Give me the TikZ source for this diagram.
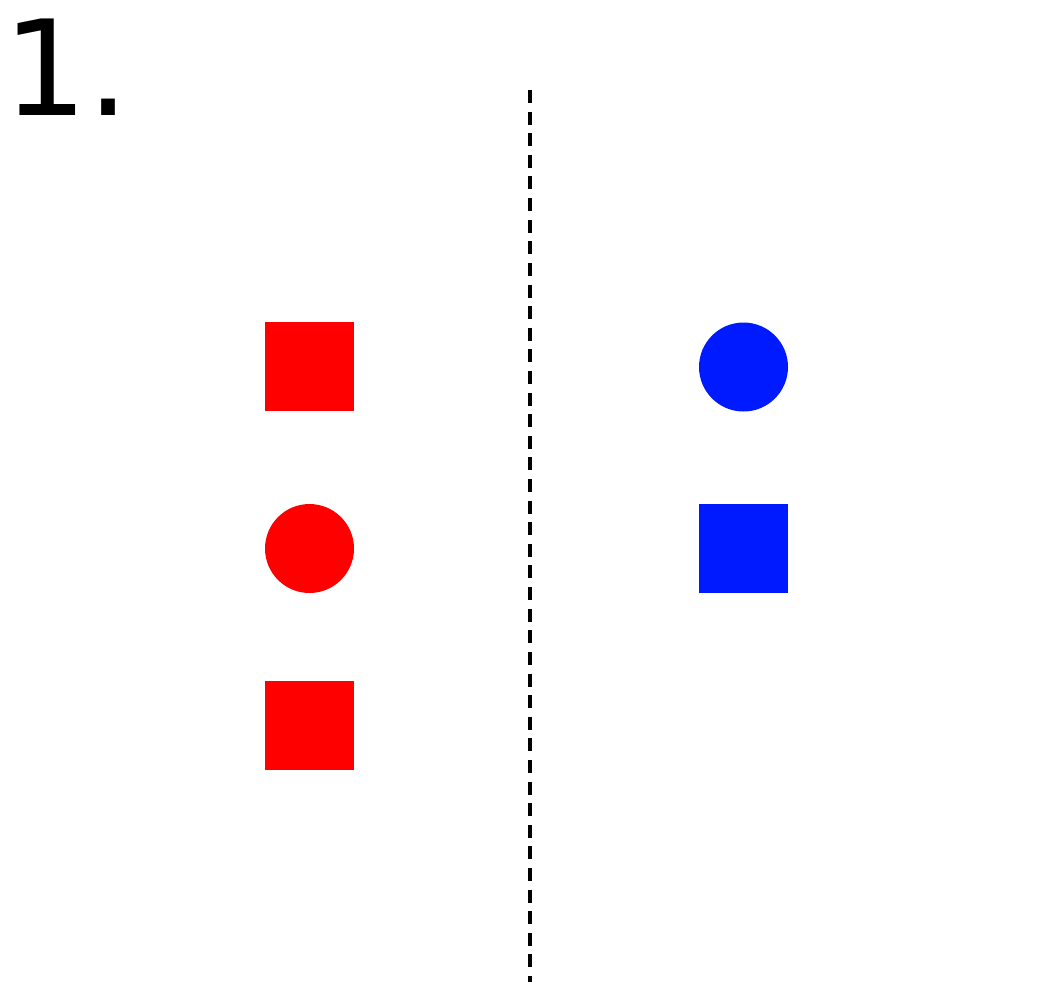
\documentclass[tikz,border=0pt]{standalone}
\usepackage{fontspec}
\newfontfamily\dejavu{DejaVu Sans}
\definecolor{myred}{HTML}{FF0000}
\definecolor{myblue}{HTML}{001AFF}
\begin{document}
\begin{tikzpicture}[x=0.02cm,y=-0.02cm,
  redsq/.style={fill=myred,draw=none,minimum size=1.78cm,inner sep=0pt,rectangle},
  redci/.style={fill=myred,draw=none,minimum size=1.78cm,inner sep=0pt,circle},
  bluesq/.style={fill=myblue,draw=none,minimum size=1.78cm,inner sep=0pt,rectangle},
  blueci/.style={fill=myblue,draw=none,minimum size=1.78cm,inner sep=0pt,circle},
  divider/.style={line width=2.6pt,dash pattern=on 7.4pt off 4.9pt}]
\useasboundingbox (0,0) rectangle (1060,988);
\node[anchor=base west,inner sep=0pt,font=\dejavu\fontsize{75.4pt}{80pt}\selectfont] (label) at (3,115) {1.};
\coordinate (ltop) at (530,90);
\coordinate (lbot) at (530,982);
\draw[divider] (ltop) -- (lbot);
\node[redsq] (r1) at (309.5,366.5) {};
\node[redci] (r2) at (309.5,548.5) {};
\node[redsq] (r3) at (309.5,725) {};
\node[blueci] (b1) at (743.5,367) {};
\node[bluesq] (b2) at (743.5,548.5) {};
\end{tikzpicture}
\end{document}
